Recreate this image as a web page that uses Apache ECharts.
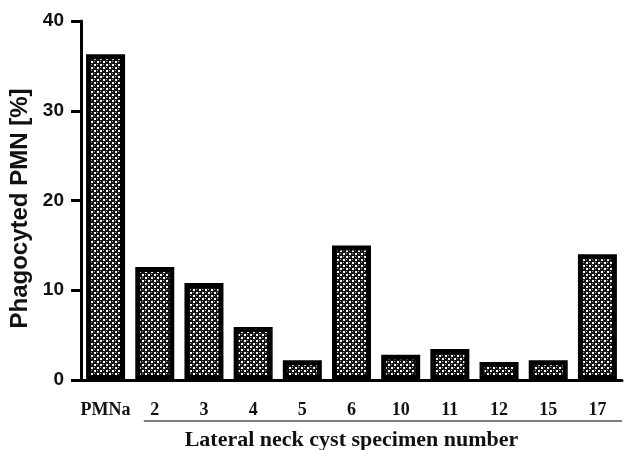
<!DOCTYPE html>
<html>
<head>
<meta charset="utf-8">
<script src="https://cdn.jsdelivr.net/npm/echarts@6/dist/echarts.min.js"></script>
<style>html,body{margin:0;padding:0;background:#fff;}#c{width:625px;height:450px;}</style>
</head>
<body>
<div id="c"></div>
<script>
var categories = ['PMNa', '2', '3', '4', '5', '6', '10', '11', '12', '15', '17'];
var phagocyted = [36.3, 12.6, 10.8, 5.9, 2.2, 15.0, 2.8, 3.45, 2.0, 2.2, 14.0];
var yTicks = { min: 0, max: 40, interval: 10 };

function makePattern() {
  var c = document.createElement('canvas');
  c.width = 6; c.height = 6;
  var g = c.getContext('2d');
  g.fillStyle = '#141414'; g.fillRect(0, 0, 6, 6);
  g.fillStyle = '#ffffff';
  g.fillRect(1, 1, 2, 2);
  g.fillRect(4, 4, 2, 2);
  g.fillStyle = '#aaaaaa';
  g.fillRect(4, 1, 1, 1);
  g.fillRect(1, 4, 1, 1);
  return c;
}

var chart = echarts.init(document.getElementById('c'), null, { renderer: 'canvas' });
var option = {
  animation: false,
  backgroundColor: '#ffffff',
  grid: { left: 81, right: 3, top: 21, bottom: 70, containLabel: false, outerBoundsMode: 'none' },
  xAxis: {
    type: 'category',
    data: categories,
    boundaryGap: true,
    name: 'Lateral neck cyst specimen number',
    nameLocation: 'middle',
    nameGap: 49,
    nameTextStyle: { fontFamily: 'Liberation Serif', fontWeight: 'bold', fontSize: 22, color: '#111' },
    axisLine: { lineStyle: { color: '#000', width: 3 } },
    axisTick: { alignWithLabel: true, length: 12, lineStyle: { color: '#000', width: 3 } },
    axisLabel: { margin: 21, fontFamily: 'Liberation Serif', fontWeight: 'bold', fontSize: 18, color: '#111', interval: 0 }
  },
  yAxis: {
    type: 'value',
    min: yTicks.min, max: yTicks.max, interval: yTicks.interval,
    name: 'Phagocyted PMN [%]',
    nameLocation: 'middle',
    nameGap: 32,
    nameTextStyle: { fontFamily: 'Liberation Sans', fontWeight: 'bold', fontSize: 24, color: '#111', padding: [0, 16, 0, 0] },
    axisLine: { show: true, lineStyle: { color: '#000', width: 3 } },
    axisTick: { show: true, length: 10, lineStyle: { color: '#000', width: 3 } },
    axisLabel: { margin: 17, fontFamily: 'Liberation Sans', fontWeight: 'bold', fontSize: 19, color: '#111' },
    splitLine: { show: false }
  },
  series: [{
    type: 'bar',
    data: phagocyted,
    barWidth: 39,
    itemStyle: {
      color: { image: makePattern(), repeat: 'repeat' },
      borderColor: '#000',
      borderWidth: 5
    }
  }]
};
chart.setOption(option);

var p2 = chart.convertToPixel({ xAxisIndex: 0 }, '2');
var base = chart.convertToPixel({ yAxisIndex: 0 }, 0);
var gridRight = 625 - 3;
chart.setOption({
  graphic: [{
    type: 'line',
    shape: { x1: p2 - 11, y1: base + 41, x2: gridRight, y2: base + 41 },
    style: { stroke: '#555', lineWidth: 1.5 }
  }]
});
</script>
</body>
</html>
